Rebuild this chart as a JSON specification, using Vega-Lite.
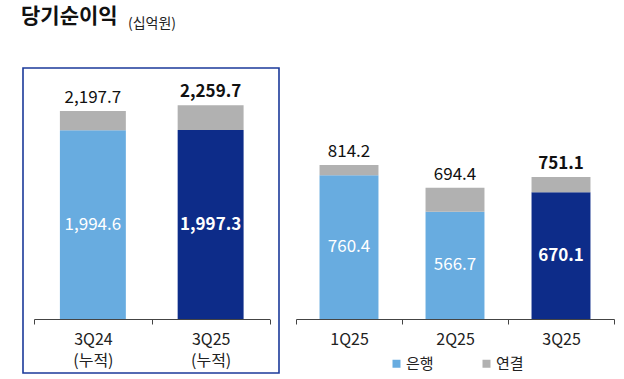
{
  "$schema": "https://vega.github.io/schema/vega-lite/v6.json",
  "padding": {"left": 20, "top": 5, "right": 0, "bottom": 0},
  "background": "white",
  "config": {
    "font": "Noto Sans CJK KR",
    "concat": {"spacing": 17},
    "axis": {"labelFont": "Noto Sans CJK KR"},
    "legend": {"labelFont": "Noto Sans CJK KR"}
  },
  "datasets": {
    "cum": [
      {"q": "3Q24 (누적)", "bank": 1994.6, "total": 2197.7},
      {"q": "3Q25 (누적)", "bank": 1997.3, "total": 2259.7}
    ],
    "qtr": [
      {"q": "1Q25", "bank": 760.4, "total": 814.2},
      {"q": "2Q25", "bank": 566.7, "total": 694.4},
      {"q": "3Q25", "bank": 670.1, "total": 751.1}
    ]
  },
  "resolve": {"scale": {"x": "independent", "y": "independent", "color": "shared"}, "legend": {"color": "shared"}},
  "bounds": "flush",
  "hconcat": [
    {
      "width": 256,
      "height": 305,
      "data": {"name": "cum"},
      "view": {"stroke": "#1B3A9A", "strokeWidth": 1.6},
      "title": {"text": "당기순이익", "anchor": "start", "frame": "group", "dx": -2, "offset": 24, "baseline": "alphabetic", "fontSize": 21, "fontWeight": "bold", "color": "#111111"},
      "encoding": {
        "x": {"field": "q", "type": "nominal", "sort": null,
          "scale": {"range": [11, 246.5], "paddingInner": 0, "paddingOuter": 0},
          "axis": {"title": null, "labelAngle": 0, "offset": -54, "tickBand": "extent", "tickSize": 5, "domainColor": "#444444", "tickColor": "#444444", "labelColor": "#222222", "labelFontSize": 16, "labelPadding": 7, "labelLineHeight": 21, "labelExpr": "split(datum.label, ' ')"}}
      },
      "layer": [
        {"transform": [{"filter": "indexof(datum.q, '3Q25') !== 0"}],
         "mark": {"type": "bar", "width": {"band": 0.56}},
         "encoding": {"y": {"field": "bank", "type": "quantitative", "scale": {"domain": [-571, 2653], "nice": false, "zero": false}, "axis": null},
           "color": {"datum": "은행", "type": "nominal", "scale": {"domain": ["은행", "연결"], "range": ["#68ACE0", "#B1B1B1"]}}}},
        {"transform": [{"filter": "indexof(datum.q, '3Q25') === 0"}],
         "mark": {"type": "bar", "width": {"band": 0.56}, "color": "#0D2C89"},
         "encoding": {"y": {"field": "bank", "type": "quantitative"}}},
        {"mark": {"type": "bar", "width": {"band": 0.56}},
         "encoding": {"y": {"field": "bank", "type": "quantitative"}, "y2": {"field": "total"},
           "color": {"datum": "연결", "type": "nominal"}}},
        {"transform": [{"filter": "indexof(datum.q, '3Q25') !== 0"}],
         "mark": {"type": "text", "baseline": "alphabetic", "dy": -8, "fontSize": 17, "color": "#111111"},
         "encoding": {"y": {"field": "total", "type": "quantitative"}, "text": {"field": "total", "type": "quantitative", "format": ",.1f"}}},
        {"transform": [{"filter": "indexof(datum.q, '3Q25') === 0"}],
         "mark": {"type": "text", "baseline": "alphabetic", "dy": -8, "fontSize": 17, "fontWeight": "bold", "color": "#111111"},
         "encoding": {"y": {"field": "total", "type": "quantitative"}, "text": {"field": "total", "type": "quantitative", "format": ",.1f"}}},
        {"transform": [{"filter": "indexof(datum.q, '3Q25') !== 0"}],
         "mark": {"type": "text", "baseline": "middle", "fontSize": 17, "color": "white"},
         "encoding": {"y": {"field": "bank", "type": "quantitative", "stack": "zero", "bandPosition": 0.5}, "text": {"field": "bank", "type": "quantitative", "format": ",.1f"}}},
        {"transform": [{"filter": "indexof(datum.q, '3Q25') === 0"}],
         "mark": {"type": "text", "baseline": "middle", "fontSize": 17, "fontWeight": "bold", "color": "white"},
         "encoding": {"y": {"field": "bank", "type": "quantitative", "stack": "zero", "bandPosition": 0.5}, "text": {"field": "bank", "type": "quantitative", "format": ",.1f"}}}
      ]
    },
    {
      "width": 318,
      "height": 305,
      "data": {"name": "qtr"},
      "view": {"stroke": null},
      "title": {"text": "(십억원)", "anchor": "start", "frame": "group", "dx": -168, "offset": 26, "baseline": "alphabetic", "fontSize": 14, "fontWeight": "normal", "color": "#222222"},
      "encoding": {
        "x": {"field": "q", "type": "nominal", "sort": null,
          "scale": {"paddingInner": 0, "paddingOuter": 0},
          "axis": {"title": null, "labelAngle": 0, "offset": -54, "tickBand": "extent", "tickSize": 5, "domainColor": "#444444", "tickColor": "#444444", "labelColor": "#222222", "labelFontSize": 16, "labelPadding": 7}}
      },
      "layer": [
        {"transform": [{"filter": "indexof(datum.q, '3Q25') !== 0"}],
         "mark": {"type": "bar", "width": {"band": 0.556}},
         "encoding": {"y": {"field": "bank", "type": "quantitative", "scale": {"domain": [-286, 1328], "nice": false, "zero": false}, "axis": null},
           "color": {"datum": "은행", "type": "nominal",
             "legend": {"orient": "none", "legendX": 366, "legendY": 288, "direction": "horizontal", "title": null, "symbolType": "square", "symbolSize": 64, "symbolStrokeWidth": 0, "labelFontSize": 15, "labelColor": "#222222", "columnPadding": 45, "symbolOffset": 0, "labelOffset": 2}}}},
        {"transform": [{"filter": "indexof(datum.q, '3Q25') === 0"}],
         "mark": {"type": "bar", "width": {"band": 0.556}, "color": "#0D2C89"},
         "encoding": {"y": {"field": "bank", "type": "quantitative"}}},
        {"mark": {"type": "bar", "width": {"band": 0.556}},
         "encoding": {"y": {"field": "bank", "type": "quantitative"}, "y2": {"field": "total"},
           "color": {"datum": "연결", "type": "nominal"}}},
        {"transform": [{"filter": "indexof(datum.q, '3Q25') !== 0"}],
         "mark": {"type": "text", "baseline": "alphabetic", "dy": -8, "fontSize": 17, "color": "#111111"},
         "encoding": {"y": {"field": "total", "type": "quantitative"}, "text": {"field": "total", "type": "quantitative", "format": ",.1f"}}},
        {"transform": [{"filter": "indexof(datum.q, '3Q25') === 0"}],
         "mark": {"type": "text", "baseline": "alphabetic", "dy": -8, "fontSize": 17, "fontWeight": "bold", "color": "#111111"},
         "encoding": {"y": {"field": "total", "type": "quantitative"}, "text": {"field": "total", "type": "quantitative", "format": ",.1f"}}},
        {"transform": [{"filter": "indexof(datum.q, '3Q25') !== 0"}],
         "mark": {"type": "text", "baseline": "middle", "fontSize": 17, "color": "white"},
         "encoding": {"y": {"field": "bank", "type": "quantitative", "stack": "zero", "bandPosition": 0.5}, "text": {"field": "bank", "type": "quantitative", "format": ",.1f"}}},
        {"transform": [{"filter": "indexof(datum.q, '3Q25') === 0"}],
         "mark": {"type": "text", "baseline": "middle", "fontSize": 17, "fontWeight": "bold", "color": "white"},
         "encoding": {"y": {"field": "bank", "type": "quantitative", "stack": "zero", "bandPosition": 0.5}, "text": {"field": "bank", "type": "quantitative", "format": ",.1f"}}}
      ]
    }
  ]
}
